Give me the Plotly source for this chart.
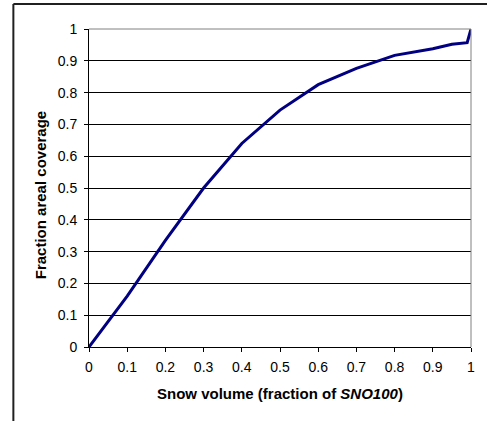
import plotly.graph_objects as go

snow_volume = [0, 0.1, 0.2, 0.3, 0.4, 0.5, 0.6, 0.7, 0.8, 0.9, 0.95, 0.98, 0.99, 1.0]
areal_coverage = [0, 0.16, 0.335, 0.5, 0.64, 0.745, 0.825, 0.876, 0.917, 0.938, 0.952, 0.955, 0.957, 1.0]
tick_vals = [0, 0.1, 0.2, 0.3, 0.4, 0.5, 0.6, 0.7, 0.8, 0.9, 1]
tick_text = ["0", "0.1", "0.2", "0.3", "0.4", "0.5", "0.6", "0.7", "0.8", "0.9", "1"]

fig = go.Figure()
fig.add_trace(go.Scatter(x=snow_volume, y=areal_coverage, mode="lines",
                         line=dict(color="#000080", width=3), showlegend=False,
                         cliponaxis=False))

font = "Liberation Sans, Arial, sans-serif"
fig.update_layout(
    width=487, height=421,
    margin=dict(l=89, r=14, t=29, b=74),
    paper_bgcolor="white", plot_bgcolor="white",
    font=dict(family=font, size=14, color="black"),
    xaxis=dict(range=[0, 1], tickvals=tick_vals, ticktext=tick_text,
               showgrid=False, zeroline=False, showline=True, linecolor="black", linewidth=1,
               ticks="outside", ticklen=4, tickcolor="black", ticklabelstandoff=3),
    yaxis=dict(range=[0, 1], tickvals=tick_vals, ticktext=tick_text,
               showgrid=True, gridcolor="black", gridwidth=1, zeroline=False,
               showline=True, linecolor="black", linewidth=1,
               ticks="outside", ticklen=4, tickcolor="black", ticklabelstandoff=4),
    shapes=[
        dict(type="line", xref="paper", yref="paper", x0=0, x1=1, y0=1, y1=1,
             line=dict(color="#808080", width=1)),
        dict(type="line", xref="paper", yref="paper", x0=1, x1=1, y0=0, y1=1,
             line=dict(color="#808080", width=1)),
        dict(type="line", xref="paper", yref="paper", x0=-0.198, x1=-0.198, y0=-0.3, y1=1.0786,
             line=dict(color="#202020", width=2)),
        dict(type="line", xref="paper", yref="paper", x0=-0.198, x1=1.1, y0=1.0786, y1=1.0786,
             line=dict(color="#202020", width=2)),
    ],
    annotations=[
        dict(text="<b>Snow volume (fraction of <i>SNO100</i>)</b>", xref="paper", yref="paper",
             x=0.5, y=-0.1447, xanchor="center", yanchor="middle", showarrow=False,
             font=dict(family=font, size=15, color="black")),
        dict(text="<b>Fraction areal coverage</b>", xref="paper", yref="paper",
             x=-0.125, y=0.478, xanchor="center", yanchor="middle", showarrow=False,
             textangle=-90, font=dict(family=font, size=15, color="black")),
    ],
)
fig.write_html("out.html", config={"displayModeBar": False},
               post_script="document.body.style.margin='0';")
